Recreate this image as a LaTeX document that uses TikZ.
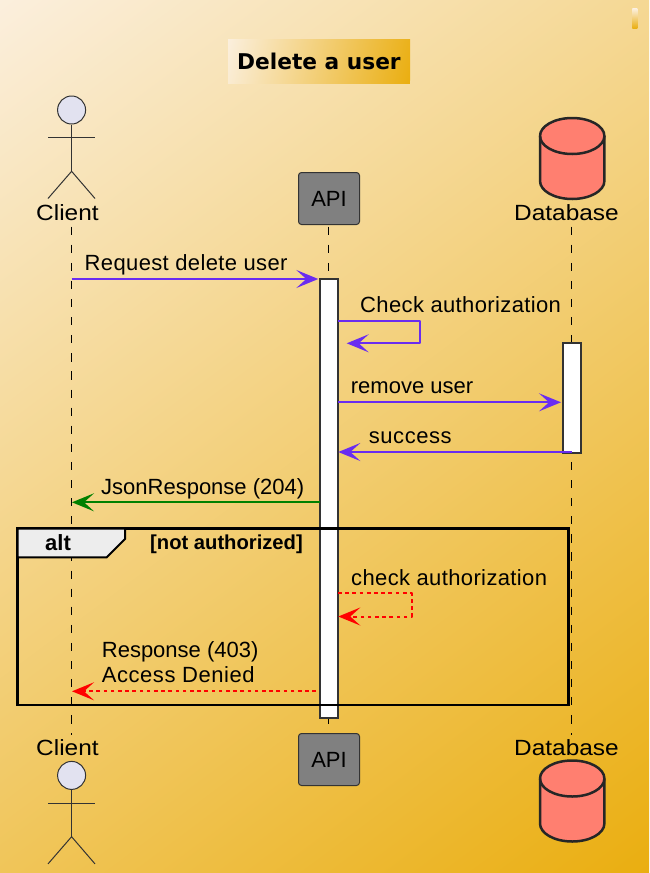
\documentclass[tikz,border=0pt]{standalone}
\usepackage{fontspec}
\setmainfont{Liberation Sans}
\newfontfamily\titlefont{DejaVu Sans}
\newfontfamily\widefont[FakeStretch=1.11]{Liberation Sans}
\newfontfamily\spacedfont[LetterSpace=1.7]{Liberation Sans}
\newfontfamily\loosefont[LetterSpace=2.5]{Liberation Sans}
\usetikzlibrary{arrows.meta,shapes.geometric}
\definecolor{bgstart}{HTML}{FBEFDD}
\definecolor{bgend}{HTML}{EAAE10}
\definecolor{msgpurple}{HTML}{6A2CF0}
\definecolor{okgreen}{HTML}{008000}
\definecolor{dbfill}{HTML}{FF7F70}
\definecolor{headfill}{HTML}{E2E2F0}
\definecolor{linegray}{HTML}{333333}
\tikzset{
  txt/.style={anchor=base west,inner sep=0pt,font=\fontsize{22}{24}\selectfont},
  spaced/.style={txt,font=\spacedfont\fontsize{22}{24}\selectfont},
  loose/.style={txt,font=\loosefont\fontsize{22}{24}\selectfont},
  wide/.style={txt,font=\widefont\fontsize{22}{24}\selectfont},
  lifeline/.style={draw=black,line width=1pt,dash pattern=on 8.2pt off 9.9pt},
  actorline/.style={draw=linegray,line width=1pt},
  msgtip/.style={-{Stealth[length=22pt,width=18pt,inset=10pt]}},
  msg/.style={msgtip,draw=msgpurple,line width=2pt,line join=round},
  okmsg/.style={msgtip,draw=okgreen,line width=2pt},
  errmsg/.style={msgtip,draw=red,line width=2pt,line join=round,dash pattern=on 3.7pt off 3.5pt},
  apibox/.style={draw=linegray,fill=black!50,line width=1pt,rounded corners=3pt,
    minimum width=61pt,minimum height=52pt,inner sep=0pt,font=\fontsize{22}{24}\selectfont},
  barbox/.style={draw=linegray,fill=white,line width=2pt,minimum width=18pt,inner sep=0pt},
  dbshape/.style={draw=black!85,fill=dbfill,line width=2.5pt},
  boldtxt/.style={anchor=base west,inner sep=0pt,font=\fontsize{20.2}{22}\selectfont\bfseries}
}
\begin{document}
\begin{tikzpicture}[x=1pt,y=-1pt]
  \useasboundingbox (0,0) rectangle (649,873);
  % background
  \begin{scope}
    \clip (0,0) rectangle (649,873);
    \begin{scope}[transform canvas={rotate=-53.37}]
      \shade[left color=bgstart,right color=bgend] (0,-1200) rectangle (1087.8,1200);
    \end{scope}
  \end{scope}
  \shade[top color=bgstart,bottom color=bgend] (632.4,8.7) rectangle (637.4,28.3);
  % title
  \begin{scope}
    \clip (228,39) rectangle (410,83.5);
    \begin{scope}[transform canvas={shift={(228pt,-39pt)},rotate=-13.7}]
      \shade[left color=bgstart,right color=bgend] (0,-200) rectangle (187.4,200);
    \end{scope}
  \end{scope}
  \node[anchor=base west,inner sep=0pt,font=\titlefont\bfseries\fontsize{21.7}{24}\selectfont] (title) at (237,69.3) {Delete a user};
  % lifelines
  \coordinate (clienttop) at (71.6,226.6);
  \coordinate (clientbot) at (71.6,735);
  \coordinate (apitop) at (328.3,226.6);
  \coordinate (apibot) at (328.3,726);
  \coordinate (dbtop) at (571.7,226.6);
  \coordinate (dbbot) at (571.7,735);
  \draw[lifeline] (clienttop) -- (clientbot);
  \draw[lifeline] (apitop) -- (apibot);
  \draw[lifeline] (dbtop) -- (dbbot);
  % activation bars
  \node[barbox,minimum height=438.7pt] (apibar) at (329,498.3) {};
  \node[barbox,minimum height=109.7pt] (dbbar) at (572,397.8) {};
  % participants, head and foot
  \foreach \top/\base/\name in {96/220.7/c, 761.4/755/d}{
    \node[draw=linegray,fill=headfill,ellipse,line width=1pt,minimum width=28pt,minimum height=28pt,inner sep=0pt] (head\name) at (71.6,\top+14) {};
    \coordinate (hip\name) at (71.6,\top+75.3);
    \coordinate (arml\name) at (48,\top+41.6);
    \coordinate (armr\name) at (95,\top+41.6);
    \coordinate (legl\name) at (48,\top+102.5);
    \coordinate (legr\name) at (95,\top+102.5);
    \draw[actorline] (head\name) -- (hip\name);
    \draw[actorline] (arml\name) -- (armr\name);
    \draw[actorline] (legl\name) -- (hip\name) -- (legr\name);
    \node[wide] (client\name) at (36,\base) {Client};
    \node[wide] (dbname\name) at (514,\base) {Database};
  }
  \node[apibox] (apihead) at (329,198.5) {API};
  \node[apibox] (apifoot) at (329,759.5) {API};
  \foreach \top in {118,760.5}{
    \draw[dbshape] (540,\top+18) arc[start angle=180,end angle=360,x radius=32.2,y radius=18]
      -- (604.4,\top+63) arc[start angle=0,end angle=180,x radius=32.2,y radius=18] -- cycle;
    \draw[dbshape,fill=none] (540,\top+18) arc[start angle=180,end angle=0,x radius=32.2,y radius=18];
  }
  % messages
  \coordinate (m1a) at (71.6,279);
  \coordinate (m1b) at (318.3,279);
  \draw[msg] (m1a) -- (m1b);
  \node[spaced] (m1t) at (84.5,270) {Request delete user};
  \coordinate (m2a) at (338,321);
  \coordinate (m2b) at (419.7,321);
  \coordinate (m2c) at (419.7,343.3);
  \coordinate (m2d) at (346.7,343.3);
  \draw[msg] (m2a) -- (m2b) -- (m2c) -- (m2d);
  \node[spaced] (m2t) at (360,312.3) {Check authorization};
  \coordinate (m3a) at (338,402.3);
  \coordinate (m3b) at (561,402.3);
  \draw[msg] (m3a) -- (m3b);
  \node[txt] (m3t) at (350.7,393.3) {remove user};
  \coordinate (m4a) at (571.7,452);
  \coordinate (m4b) at (338.3,452);
  \draw[msg] (m4a) -- (m4b);
  \node[loose] (m4t) at (368.7,443.3) {success};
  \coordinate (m5a) at (320,502.3);
  \coordinate (m5b) at (72,502.3);
  \draw[okmsg] (m5a) -- (m5b);
  \node[txt] (m5t) at (101,494) {JsonResponse (204)};
  % alt frame
  \draw[draw=black,line width=2.8pt] (17.5,528.5) rectangle (568.3,705);
  \draw[draw=black,fill=black!7,line width=2pt] (17.5,528.5) -- (125,528.5) -- (125,539) -- (106.7,557.3) -- (17.5,557.3) -- cycle;
  \node[boldtxt,font=\fontsize{22}{24}\selectfont\bfseries] (alttag) at (45,550) {alt};
  \node[boldtxt] (altcond) at (150,549.3) {[not authorized]};
  \coordinate (m6a) at (338,593.3);
  \coordinate (m6b) at (411.5,593.3);
  \coordinate (m6c) at (411.5,616.5);
  \coordinate (m6d) at (338.3,616.5);
  \draw[errmsg] (m6a) -- (m6b) -- (m6c) -- (m6d);
  \node[spaced] (m6t) at (351,585) {check authorization};
  \coordinate (m7a) at (316,691.3);
  \coordinate (m7b) at (72,691.3);
  \draw[errmsg] (m7a) -- (m7b);
  \node[txt] (m7t) at (101.7,657.7) {Response (403)};
  \node[loose] (m7u) at (101.7,682.7) {Access Denied};
\end{tikzpicture}
\end{document}
